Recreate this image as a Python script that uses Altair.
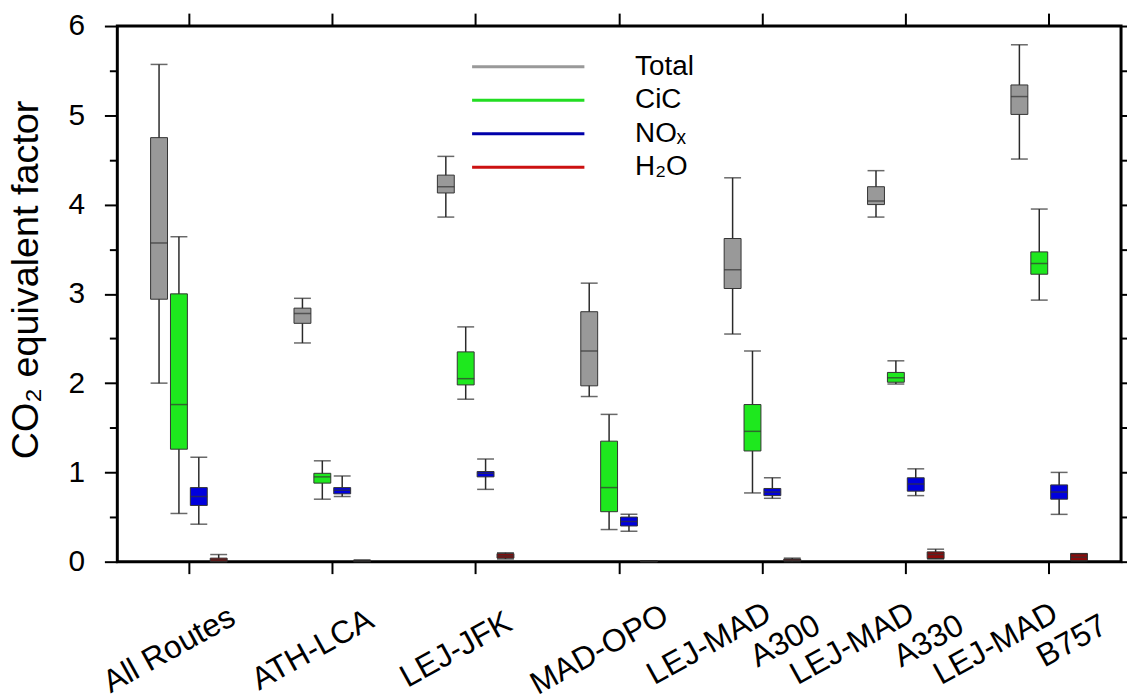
import altair as alt
import pandas as pd

# ---------------- data ----------------
routes = ["All Routes", "ATH-LCA", "LEJ-JFK", "MAD-OPO",
          "LEJ-MAD A300", "LEJ-MAD A330", "LEJ-MAD B757"]
route_line1 = ["All Routes", "ATH-LCA", "LEJ-JFK", "MAD-OPO",
               "LEJ-MAD", "LEJ-MAD", "LEJ-MAD"]
route_line2 = ["", "", "", "", "A300", "A330", "B757"]
components = ["Total", "CiC", "NOx", "H2O"]
legend_labels = ["Total", "CiC", "NO\u2093", "H\u2082O"]

# each entry: [whisker low, q1, median, q3, whisker high]
total = [[2.00, 2.94, 3.57, 4.75, 5.57],
         [2.45, 2.67, 2.78, 2.84, 2.95],
         [3.86, 4.13, 4.20, 4.33, 4.54],
         [1.85, 1.97, 2.36, 2.80, 3.12],
         [2.55, 3.06, 3.27, 3.62, 4.30],
         [3.86, 4.00, 4.04, 4.20, 4.38],
         [4.51, 5.01, 5.21, 5.34, 5.79]]
cic = [[0.54, 1.26, 1.76, 3.00, 3.64],
       [0.70, 0.88, 0.95, 0.99, 1.13],
       [1.82, 1.98, 2.05, 2.35, 2.63],
       [0.36, 0.56, 0.83, 1.35, 1.65],
       [0.77, 1.24, 1.46, 1.76, 2.36],
       [1.99, 2.01, 2.06, 2.12, 2.25],
       [2.93, 3.22, 3.34, 3.47, 3.95]]
nox = [[0.42, 0.63, 0.73, 0.83, 1.17],
       [0.73, 0.76, 0.80, 0.83, 0.96],
       [0.81, 0.95, 0.99, 1.01, 1.15],
       [0.34, 0.40, 0.45, 0.50, 0.53],
       [0.71, 0.74, 0.78, 0.82, 0.94],
       [0.74, 0.79, 0.87, 0.94, 1.04],
       [0.53, 0.70, 0.78, 0.86, 1.00]]
h2o = [[0.00, 0.00, 0.02, 0.04, 0.08],
       [0.00, 0.005, 0.01, 0.015, 0.02],
       [0.03, 0.04, 0.065, 0.09, 0.10],
       [0.00, 0.00, 0.005, 0.01, 0.01],
       [0.00, 0.01, 0.02, 0.03, 0.04],
       [0.03, 0.035, 0.08, 0.11, 0.14],
       [0.01, 0.01, 0.05, 0.09, 0.09]]

box_fill = ["#999999", "#1ee81e", "#0000dd", "#8b0a0a"]
legend_color = ["#999999", "#22dd22", "#0000aa", "#cc1111"]

rows = []
for comp, series in zip(components, [total, cic, nox, h2o]):
    for r, (lo, q1, md, q3, hi) in zip(routes, series):
        rows.append(dict(route=r, comp=comp, lo=lo, q1=q1, med=md, q3=q3, hi=hi))
df = pd.DataFrame(rows)

lab_df = pd.DataFrame({"route": routes, "line1": route_line1, "line2": route_line2})
line2_df = lab_df[lab_df["line2"] != ""]

# ---------------- layout ----------------
W, H = 1010, 539
FONT = "Liberation Sans"
ANG = 331
LFS = 32

# first-line label text via lookup on the route name
line1_expr = " : ".join(
    [f"datum.label === '{r}' ? '{l1}'" for r, l1 in zip(routes, route_line1)] + ["datum.label"])
multi_test = "indexof(datum.label, 'LEJ-MAD ') >= 0"

x_bottom = alt.Axis(orient="bottom", title=None, domain=False, tickSize=12, tickWidth=2,
                    tickColor="black", labelAngle=ANG, labelAlign="center",
                    labelBaseline="middle", labelFontSize=LFS, labelFont=FONT,
                    labelColor="black",
                    labelPadding={"condition": {"test": multi_test, "value": 70}, "value": 76},
                    labelOffset={"condition": {"test": multi_test, "value": -54}, "value": -20},
                    labelExpr=line1_expr, labelLimit=0,
                    labelOverlap=False, grid=False)
x_top = alt.Axis(orient="top", title=None, domain=False, tickSize=13, tickWidth=2,
                 tickColor="black", labels=False, grid=False)

yvals = [i * 0.5 for i in range(13)]
y_left = alt.Axis(orient="left", values=yvals, title="CO\u2082 equivalent factor",
                  titleFontSize=38, titleFont=FONT, titleFontWeight="normal",
                  titleColor="black", titleAngle=270, titleX=-91, titleY=255,
                  titleAlign="center", titleBaseline="middle",
                  domain=False, tickWidth=2, tickColor="black",
                  tickSize={"condition": {"test": "datum.value % 1 === 0", "value": 13},
                            "value": 8},
                  labelExpr="datum.value % 1 === 0 ? format(datum.value, 'd') : ''",
                  labelFontSize=30, labelFont=FONT, labelColor="black",
                  labelPadding=20, grid=False)
y_right = alt.Axis(orient="right", values=yvals, title=None, domain=False, tickSize=9,
                   tickWidth=2, tickColor="black", labels=False, grid=False)

yscale = alt.Scale(domain=[0, 6], nice=False, zero=True)
xscale = alt.Scale(domain=routes, paddingInner=0, paddingOuter=0)
offscale = alt.Scale(domain=components, paddingInner=0, paddingOuter=0, range=[32, 112])
cscale = alt.Scale(domain=components, range=box_fill)

base = alt.Chart(df)


def X(axis):
    return alt.X("route:N", scale=xscale, sort=routes, axis=axis)


def XO():
    return alt.XOffset("comp:N", scale=offscale, sort=components)


WC = "#2a2a2a"
whisk = base.mark_rule(color=WC, strokeWidth=1.5).encode(
    x=X(x_bottom), xOffset=XO(),
    y=alt.Y("lo:Q", scale=yscale, axis=y_left), y2="hi:Q")

cap_lo = base.mark_tick(size=17, thickness=1.5, color=WC).encode(
    x=X(x_top), xOffset=XO(), y=alt.Y("lo:Q", scale=yscale, axis=y_right))
cap_hi = base.mark_tick(size=17, thickness=1.5, color=WC).encode(
    x=X(None), xOffset=XO(), y=alt.Y("hi:Q", scale=yscale, axis=None))

box = base.mark_bar(size=17, stroke="#333333", strokeWidth=1, opacity=1).encode(
    x=X(None), xOffset=XO(),
    y=alt.Y("q1:Q", scale=yscale, axis=None), y2="q3:Q",
    color=alt.Color("comp:N", scale=cscale, legend=None))

med = base.mark_tick(size=17, thickness=1.5, color="#333333").encode(
    x=X(None), xOffset=XO(), y=alt.Y("med:Q", scale=yscale, axis=None))

# second line of the aircraft-specific tick labels (placed like axis labels)
line2 = alt.Chart(line2_df).mark_text(
    angle=ANG, align="center", baseline="middle", font=FONT, fontSize=LFS,
    color="black", dx=20, dy=11).encode(
    x=X(None), y=alt.value(H + 80), text="line2:N")

# legend (drawn inside the plot area), one datum per layer
one = alt.Data(values=[{"k": 0}])
leg_layers = []
leg_x0, leg_x1, leg_tx, leg_y0, leg_dy = 357, 470, 521, 41, 33.7
for i, (lab, col) in enumerate(zip(legend_labels, legend_color)):
    yy = leg_y0 + i * leg_dy
    leg_layers.append(alt.Chart(one).mark_rule(color=col, strokeWidth=3).encode(
        x=alt.value(leg_x0), x2=alt.value(leg_x1), y=alt.value(yy)))
    leg_layers.append(alt.Chart(one).mark_text(
        text=lab, align="left", baseline="middle", font=FONT, fontSize=28,
        color="black").encode(x=alt.value(leg_tx), y=alt.value(yy)))

chart = alt.layer(whisk, box, med, cap_hi, cap_lo, line2, *leg_layers).resolve_axis(
    x="independent", y="independent"
).properties(
    width=W, height=H,
    autosize=alt.AutoSizeParams(type="none"),
    padding={"left": 110, "top": 16, "right": 6, "bottom": 132},
    background="white",
).configure(
    font=FONT
).configure_view(
    stroke="black", strokeWidth=3
)

chart.save("out.html", embed_options={"renderer": "svg", "actions": False})
